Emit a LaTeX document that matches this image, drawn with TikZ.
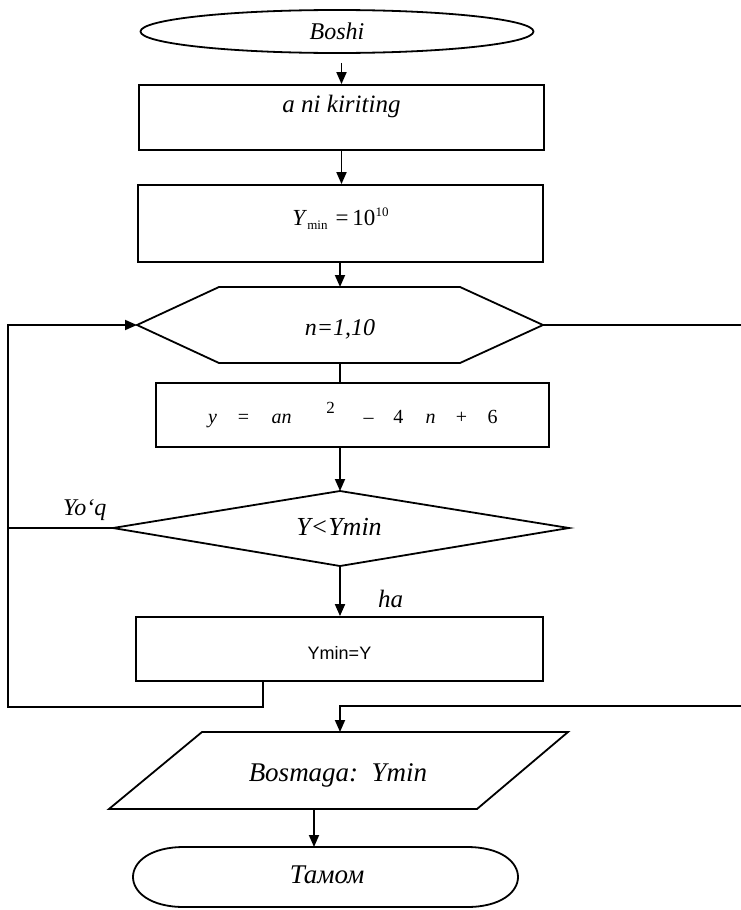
\documentclass[tikz,border=0pt]{standalone}
\usepackage{fontspec}
\setmainfont{Liberation Serif}
\newfontfamily\sansf{Liberation Sans}
\usetikzlibrary{shapes.geometric,arrows.meta}
\newcommand{\fs}[1]{\fontsize{#1}{#1}\selectfont}
\begin{document}
\begin{tikzpicture}[x=1pt,y=-1pt,
  line/.style={line width=1.8pt},
  arr/.style={line width=1.8pt,-{Triangle[length=12pt,width=10pt]}},
  box/.style={draw,line width=1.8pt,rectangle,inner sep=0pt},
  lbl/.style={inner sep=0pt,font=\fs{25}\itshape}]
\useasboundingbox (0,0) rectangle (740,910);

% start
\node[draw,ellipse,line width=1.8pt,minimum width=393pt,minimum height=43pt,inner sep=0pt,font=\fs{24}\itshape] (boshi) at (337,31.5) {Boshi};

% input
\node[box,minimum width=405pt,minimum height=65pt,text height=16pt,text depth=27pt,font=\fs{25}\itshape] (kirit) at (341.5,117.5) {a ni kiriting};

% init
\node[box,minimum width=405pt,minimum height=77pt,text height=20pt,text depth=17pt,font=\fs{23}] (ymin0) at (340.5,223.5)
  {\textit{Y}\raisebox{-4pt}{\fs{13}min}\hspace{8pt}=\hspace{4pt}10\raisebox{9pt}{\fs{13}10}};

% loop hexagon
\coordinate (hL) at (137,325);
\coordinate (hR) at (543,325);
\coordinate (hT) at (340,287);
\coordinate (hB) at (340,363);
\draw[line] (hL) -- (219,287) -- (460,287) -- (hR) -- (460,363) -- (219,363) -- cycle;
\node[lbl,font=\fs{24}\itshape] (cyc) at (340,329) {n=1,10};

% formula
\node[box,minimum width=393pt,minimum height=64pt,text height=22pt,text depth=6pt,font=\fs{20}] (calc) at (352.5,415)
  {\makebox[0pt]{\itshape y}\hspace{31pt}\makebox[0pt]{=}\hspace{38pt}\makebox[0pt]{\itshape an}\hspace{49pt}\makebox[0pt]{\raisebox{10pt}{\fs{17}2}}\hspace{38pt}\makebox[0pt]{–}\hspace{30pt}\makebox[0pt]{4}\hspace{32pt}\makebox[0pt]{\itshape n}\hspace{31pt}\makebox[0pt]{+}\hspace{31pt}\makebox[0pt]{6}\hspace{15pt}};

% decision
\coordinate (dT) at (340,491);
\coordinate (dL) at (113,528);
\coordinate (dR) at (569,528);
\coordinate (dB) at (340,566);
\draw[line] (dT) -- (dR) -- (dB) -- (dL) -- cycle;
\node[lbl,font=\fs{26}\itshape] (cond) at (339,527) {Y<Ymin};
\node[lbl,font=\fs{24}\itshape,anchor=base west] (no) at (63,515) {Yo‘q};
\node[lbl,anchor=base west] (yes) at (378,607) {ha};

% update
\node[box,minimum width=407pt,minimum height=64pt,text height=20pt,text depth=0pt,font=\sansf\fs{18}] (upd) at (339.5,649) {Ymin=Y};

% output parallelogram
\coordinate (pT) at (340,732);
\coordinate (pB) at (314,809);
\draw[line] (202,732) -- (568,732) -- (477,809) -- (109,809) -- cycle;
\node[lbl,font=\fs{27}\itshape,anchor=base] (out) at (338,781) {Bosmaga:\ \ Ymin};

% terminator
\coordinate (tT) at (326,847);
\draw[line] (184,847) -- (467,847) .. controls (535,847) and (535,907) .. (467,907) -- (184,907) .. controls (116,907) and (116,847) .. (184,847) -- cycle;
\node[lbl,font=\fs{27}\itshape,anchor=base] (tamom) at (327,883) {Тамом};

% connectors
\path ([yshift=-9pt]boshi.south) coordinate (b0);
\draw[arr] (b0 -| kirit.north) -- (kirit.north);
\draw[arr] (kirit.south) -- (kirit.south |- ymin0.north);
\draw[arr] (ymin0.south -| hT) -- (hT);
\draw[line] (hB) -- (hB |- calc.north);
\draw[arr] (calc.south -| dT) -- (dT);
\draw[arr] (dB) -- (dB |- upd.north);

\coordinate (uo) at (263,681);
\coordinate (loopA) at (8,707);
\draw[arr] (uo) |- (loopA) |- (hL);
\draw[line] (dL) -- (dL -| loopA);

\coordinate (exA) at (748,706);
\draw[arr] (hR) -| (exA) -| (pT);
\draw[arr] (pB) -- (pB |- tT);
\end{tikzpicture}
\end{document}
